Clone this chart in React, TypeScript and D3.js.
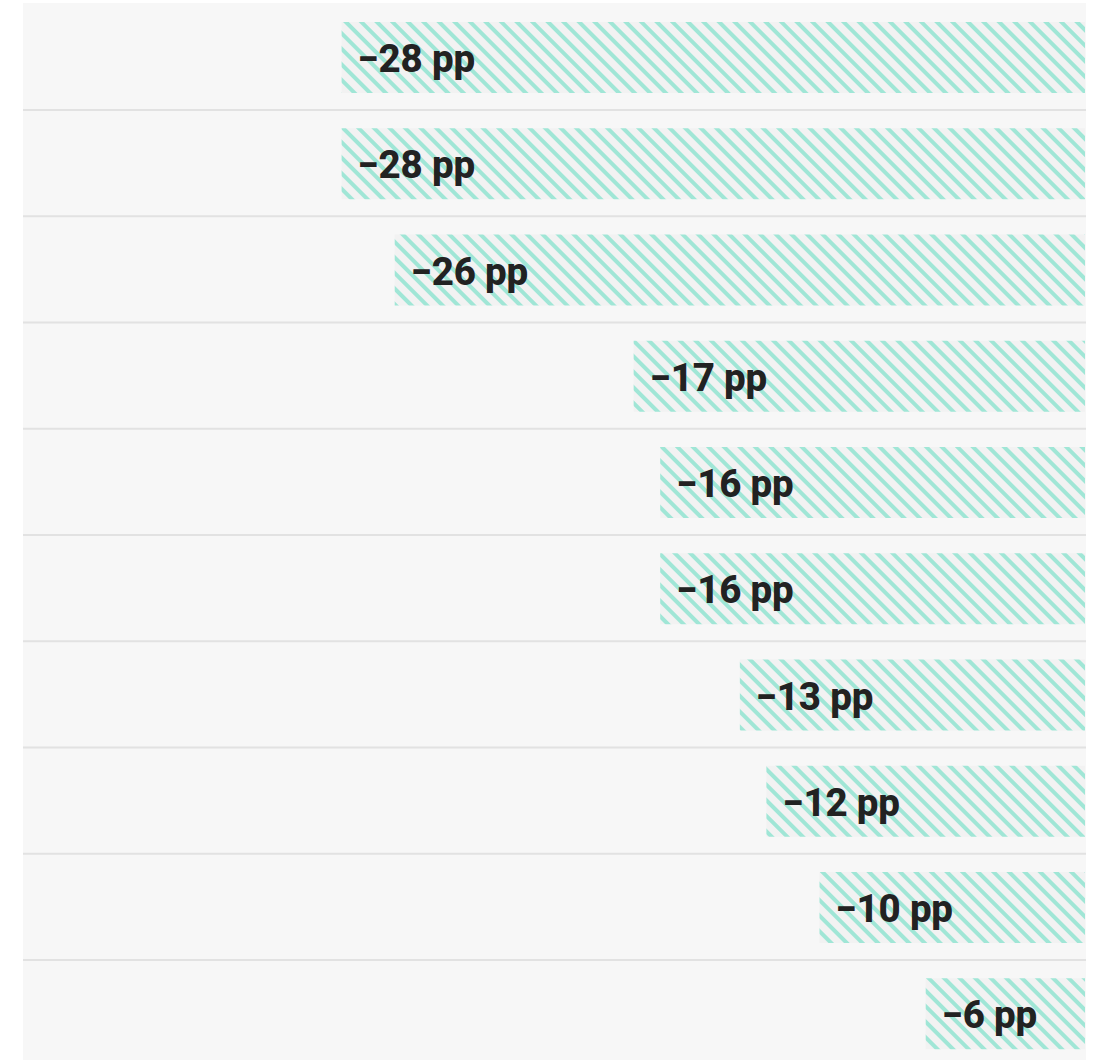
import React from "react";
import * as d3 from "d3";

const rows = ["r1", "r2", "r3", "r4", "r5", "r6", "r7", "r8", "r9", "r10"];
const values = [-28, -28, -26, -17, -16, -16, -13, -12, -10, -6];
const labels = ["−28 pp", "−28 pp", "−26 pp", "−17 pp", "−16 pp", "−16 pp", "−13 pp", "−12 pp", "−10 pp", "−6 pp"];

const W = 1100;
const H = 1070;
const left = 23;
const right = 1086;
const top = 3;
const rowH = 106.25;

export default function App() {
  const x = d3.scaleLinear().domain([-40, 0]).range([left, right - 1]);
  const y = d3
    .scaleBand<string>()
    .domain(rows)
    .range([top, top + rows.length * rowH])
    .paddingInner(0)
    .paddingOuter(0);

  return (
    <svg
      width={W}
      height={H}
      style={{ position: "absolute", left: 0, top: 0, display: "block" }}
    >
      <defs>
        <pattern
          id="stripes"
          patternUnits="userSpaceOnUse"
          width={11}
          height={11}
          patternTransform="rotate(45)"
        >
          <rect x={0} y={0} width={11} height={11} fill="#f2f2f2" />
          <rect x={0} y={0} width={11} height={4.4} fill="#a0e6d6" shapeRendering="crispEdges" />
        </pattern>
      </defs>
      <rect x={left} y={top} width={right - left} height={H - top} fill="#f7f7f7" />
      {rows.map((r, i) =>
        i < rows.length - 1 ? (
          <rect
            key={"sep" + r}
            x={left}
            y={(y(r) as number) + 106}
            width={right - left}
            height={2}
            fill="#e2e2e2"
          />
        ) : null
      )}
      {rows.map((r, i) => {
        const y0 = (y(r) as number) + 19;
        const x0 = x(values[i]);
        return (
          <g key={r}>
            <rect x={x0} y={y0} width={x(0) - x0} height={71} fill="url(#stripes)" />
            <text
              x={x0 + 16}
              y={y0 + 50}
              fontFamily="Roboto, 'Noto Sans', sans-serif"
              fontWeight={800}
              fontSize={38.5}
              fill="#222222"
              letterSpacing={-0.2}
            >
              {labels[i]}
            </text>
          </g>
        );
      })}
    </svg>
  );
}
